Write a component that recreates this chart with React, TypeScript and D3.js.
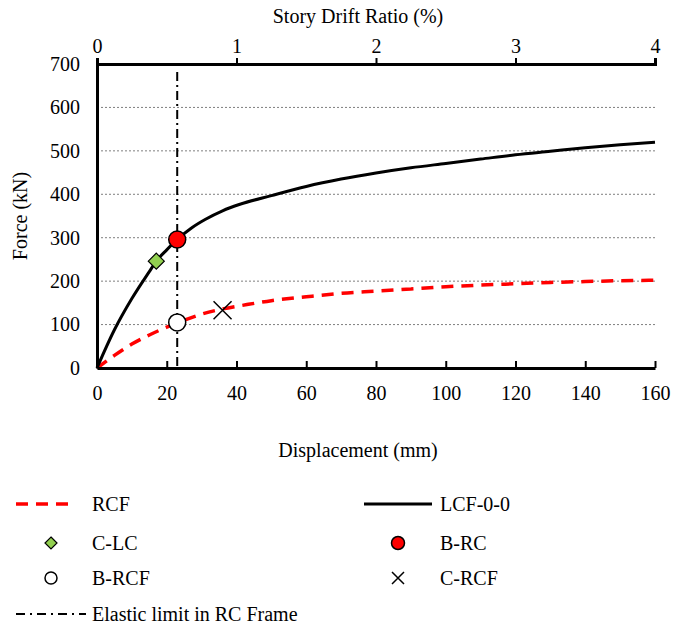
import React, { useEffect, useRef } from 'react';
import * as d3 from 'd3';

// displacement (mm) vs force (kN)
const lcfDisp = [0, 5, 10, 15, 17, 20, 23, 27, 31, 36, 41, 50, 60, 70, 80, 90, 100, 110, 120, 130, 140, 150, 160];
const lcfForce = [0, 88, 160, 222, 246, 272, 296, 322, 342, 362, 377, 397, 418, 435, 449, 461, 471, 481, 491, 499, 507, 514, 520];
const rcfDisp = [0, 5, 10, 15, 20, 25, 30, 36, 43, 50, 60, 70, 80, 90, 100, 110, 120, 130, 140, 150, 160];
const rcfForce = [0, 29, 55, 76, 94, 110, 124, 136, 146, 155, 164, 172, 177, 182, 187, 191, 194, 197, 199, 201, 202];

// key points
const cLC = { x: 17, y: 246 };
const bRC = { x: 23, y: 296 };
const bRCF = { x: 23, y: 105 };
const cRCF = { x: 36, y: 133 };
const elasticLimit = 23;

const xTicks = [0, 20, 40, 60, 80, 100, 120, 140, 160];
const yTicks = [0, 100, 200, 300, 400, 500, 600, 700];
const driftTicks = [0, 1, 2, 3, 4];

const W = 673;
const H = 627;
const FONT = 'Liberation Serif, Times New Roman, serif';

export default function App() {
  const ref = useRef<SVGSVGElement>(null);

  useEffect(() => {
    const svg = d3.select(ref.current);
    svg.selectAll('*').remove();

    const x = d3.scaleLinear().domain([0, 160]).range([97, 655]);
    const xTop = d3.scaleLinear().domain([0, 4]).range([97, 655]);
    const y = d3.scaleLinear().domain([0, 700]).range([368, 64]);

    // gridlines
    svg.append('g')
      .selectAll('line')
      .data(yTicks.filter(d => d > 0 && d < 700))
      .enter()
      .append('line')
      .attr('x1', x(0))
      .attr('x2', x(160))
      .attr('y1', d => y(d))
      .attr('y2', d => y(d))
      .attr('stroke', '#7f7f7f')
      .attr('stroke-width', 1)
      .attr('stroke-dasharray', '2,2');

    // elastic limit
    svg.append('line')
      .attr('x1', x(elasticLimit))
      .attr('x2', x(elasticLimit))
      .attr('y1', 72)
      .attr('y2', y(0))
      .attr('stroke', '#000')
      .attr('stroke-width', 2)
      .attr('stroke-dasharray', '9,4,2,4');

    const line = d3.line<[number, number]>()
      .x(d => x(d[0]))
      .y(d => y(d[1]))
      .curve(d3.curveMonotoneX);

    svg.append('path')
      .attr('d', line(rcfDisp.map((d, i) => [d, rcfForce[i]] as [number, number])))
      .attr('fill', 'none')
      .attr('stroke', '#ff0000')
      .attr('stroke-width', 3.5)
      .attr('stroke-dasharray', '12,8');

    svg.append('path')
      .attr('d', line(lcfDisp.map((d, i) => [d, lcfForce[i]] as [number, number])))
      .attr('fill', 'none')
      .attr('stroke', '#000')
      .attr('stroke-width', 3);

    // axes
    const axisStyle = (g: any) => {
      g.attr('font-family', FONT).attr('font-size', 20);
      g.select('.domain').attr('stroke-width', 3);
      g.selectAll('.tick line').attr('stroke-width', 2);
      g.selectAll('text').attr('fill', '#000');
    };

    svg.append('g')
      .attr('transform', `translate(0,${y(0)})`)
      .call(d3.axisBottom(x).tickValues(xTicks).tickSizeInner(-7).tickSizeOuter(0).tickPadding(18))
      .call(axisStyle);

    svg.append('g')
      .attr('transform', `translate(0,${y(700)})`)
      .call(d3.axisTop(xTop).tickValues(driftTicks).tickFormat(d3.format('d')).tickSize(6).tickPadding(5))
      .call(axisStyle);

    svg.append('g')
      .attr('transform', `translate(${x(0)},0)`)
      .call(d3.axisLeft(y).tickValues(yTicks).tickSize(0).tickPadding(17))
      .call(axisStyle);

    // axis titles
    const title = (tx: number, ty: number, t: string, rot = 0) =>
      svg.append('text')
        .attr('transform', `translate(${tx},${ty}) rotate(${rot})`)
        .attr('text-anchor', 'middle')
        .attr('font-family', FONT)
        .attr('font-size', 20)
        .text(t);
    title(358, 457, 'Displacement (mm)');
    title(358, 23, 'Story Drift Ratio (%)');
    title(27, 216, 'Force (kN)', -90);

    // markers
    const diamond = (cx: number, cy: number, r: number) =>
      svg.append('path')
        .attr('d', `M${cx},${cy - r}L${cx + r},${cy}L${cx},${cy + r}L${cx - r},${cy}Z`)
        .attr('fill', '#92d050')
        .attr('stroke', '#000')
        .attr('stroke-width', 1.2);
    const circle = (cx: number, cy: number, r: number, fill: string) =>
      svg.append('circle')
        .attr('cx', cx).attr('cy', cy).attr('r', r)
        .attr('fill', fill)
        .attr('stroke', '#000')
        .attr('stroke-width', 1.5);
    const cross = (cx: number, cy: number, r: number) =>
      svg.append('path')
        .attr('d', `M${cx - r},${cy - r}L${cx + r},${cy + r}M${cx - r},${cy + r}L${cx + r},${cy - r}`)
        .attr('stroke', '#000')
        .attr('stroke-width', 1.5);

    diamond(x(cLC.x), y(cLC.y), 8);
    circle(x(bRC.x), y(bRC.y), 8.5, '#ff0000');
    circle(x(bRCF.x), y(bRCF.y), 8.5, '#fff');
    cross(x(cRCF.x), y(cRCF.y), 9);

    // legend
    const label = (tx: number, ty: number, t: string) =>
      svg.append('text')
        .attr('x', tx)
        .attr('y', ty)
        .attr('dy', '0.35em')
        .attr('font-family', FONT)
        .attr('font-size', 20)
        .text(t);

    svg.append('line')
      .attr('x1', 16).attr('x2', 75).attr('y1', 504).attr('y2', 504)
      .attr('stroke', '#ff0000').attr('stroke-width', 3.5).attr('stroke-dasharray', '12,8');
    label(92, 504, 'RCF');
    svg.append('line')
      .attr('x1', 364).attr('x2', 432).attr('y1', 504).attr('y2', 504)
      .attr('stroke', '#000').attr('stroke-width', 3);
    label(440, 504, 'LCF-0-0');

    diamond(51, 543, 6);
    label(92, 543, 'C-LC');
    circle(398, 543, 6.5, '#ff0000');
    label(440, 543, 'B-RC');

    circle(51, 578, 6, '#fff');
    label(92, 578, 'B-RCF');
    cross(398, 578, 6);
    label(440, 578, 'C-RCF');

    svg.append('line')
      .attr('x1', 16).attr('x2', 86).attr('y1', 614).attr('y2', 614)
      .attr('stroke', '#000').attr('stroke-width', 2).attr('stroke-dasharray', '9,5,2,5');
    label(92, 614, 'Elastic limit in RC Frame');
  }, []);

  return (
    <svg
      ref={ref}
      width={W}
      height={H}
      style={{ position: 'absolute', left: 0, top: 0, background: '#fff' }}
    />
  );
}
